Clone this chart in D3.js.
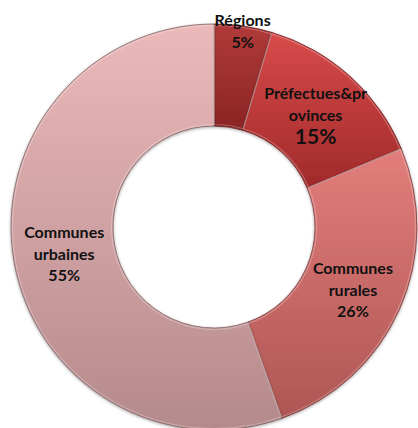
<!DOCTYPE html>
<html>
<head>
<meta charset="utf-8">
<script src="https://cdn.jsdelivr.net/npm/d3@7.9.0/dist/d3.min.js"></script>
<style>
  body { margin: 0; background: #fff; }
  svg text { font-family: Lato, "Open Sans", sans-serif; font-weight: bold; fill: #111; }
</style>
</head>
<body>
<svg id="chart" width="418" height="428"></svg>
<script>
const categories = ['Régions', 'Préfectues&pr|ovinces', 'Communes|rurales', 'Communes|urbaines'];
const values = [4.6, 14.1, 25.9, 55.4];
const pctLabels = ['5%', '15%', '26%', '55%'];
const topColors = ['#b23a3a', '#d84a4a', '#e27e7c', '#ebb9b9'];
const bottomColors = ['#8a2424', '#a02a2a', '#ae5654', '#b58a8c'];

const width = 418, height = 428;
const cx = 214, cy = 227;
const outerR = 203, innerR = 101;

const svg = d3.select('#chart');
const defs = svg.append('defs');

// each slice gets its own top-to-bottom gradient, as in the office chart
topColors.forEach((c, i) => {
    let gr = defs.append('linearGradient')
        .attr('id', 'grad' + i)
        .attr('x1', 0).attr('y1', 0)
        .attr('x2', 0).attr('y2', 1);
    gr.append('stop').attr('offset', '0%').attr('stop-color', c);
    gr.append('stop').attr('offset', '100%').attr('stop-color', bottomColors[i]);
});

let f = defs.append('filter').attr('id', 'shadow')
    .attr('x', '-10%').attr('y', '-10%').attr('width', '120%').attr('height', '120%');
f.append('feDropShadow').attr('dx', 0).attr('dy', 1).attr('stdDeviation', 1.5)
    .attr('flood-color', '#000').attr('flood-opacity', 0.35);

const pie = d3.pie().sort(null).value(d => d);
const arcData = pie(values);
const arc = d3.arc().innerRadius(innerR).outerRadius(outerR);

const g = svg.append('g').attr('transform', `translate(${cx},${cy})`);

g.selectAll('path.slice')
    .data(arcData)
    .join('path')
    .attr('class', 'slice')
    .attr('d', arc)
    .attr('fill', (d, i) => `url(#grad${i})`)
    .attr('stroke', (d, i) => d3.color(bottomColors[i]).darker(1))
    .attr('stroke-width', 0.8)
    .attr('filter', 'url(#shadow)');

// light bevel just inside every slice
const bevel = d3.arc().innerRadius(innerR + 1.5).outerRadius(outerR - 1.5);
g.selectAll('path.bevel')
    .data(arcData)
    .join('path')
    .attr('class', 'bevel')
    .attr('d', bevel)
    .attr('fill', 'none')
    .attr('stroke', '#fff')
    .attr('stroke-opacity', 0.25)
    .attr('stroke-width', 1.2);

// labels: small slices go to the outer edge, others at the ring centroid
const total = d3.sum(values);
const edgeArc = d3.arc().innerRadius(outerR * 0.98).outerRadius(outerR * 0.98);
const lineH = 21.5;

arcData.forEach((d, i) => {
    let pos = (d.value / total < 0.1) ? edgeArc.centroid(d) : arc.centroid(d);
    let lines = categories[i].split('|');
    let all = lines.concat([pctLabels[i]]);
    let y0 = pos[1] - (all.length - 1) * lineH / 2;
    let t = g.append('text')
        .attr('text-anchor', 'middle')
        .attr('dominant-baseline', 'central');
    all.forEach((s, k) => {
        let big = (k === all.length - 1 && i === 1);
        t.append('tspan')
            .attr('x', pos[0])
            .attr('y', y0 + k * lineH)
            .style('font-size', big ? '21px' : '16px')
            .text(s);
    });
});
</script>
</body>
</html>
